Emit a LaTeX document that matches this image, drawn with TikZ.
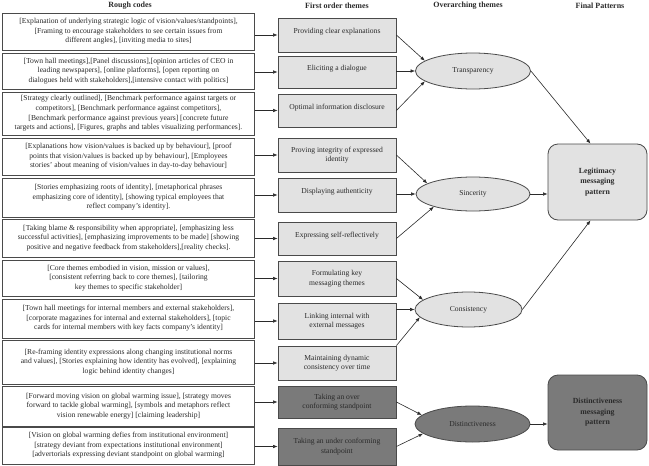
\documentclass[tikz,border=0pt]{standalone}
\usepackage{fontspec}
\setmainfont{Liberation Serif}
\usetikzlibrary{arrows.meta,shapes.geometric}
\definecolor{lightfill}{HTML}{E2E2E2}
\definecolor{darkfill}{HTML}{7A7A7A}
\definecolor{edge}{HTML}{4A4A4A}
\definecolor{ink}{HTML}{2A2A2A}
\tikzset{
  base/.style={font=\fontsize{7.6}{9.6}\selectfont, text=ink, align=center, inner sep=0pt},
  rough/.style={base, draw=edge, line width=1pt, fill=white, minimum width=252pt},
  first/.style={base, draw=edge, line width=0.8pt, fill=lightfill, minimum width=118pt},
  firstdark/.style={first, fill=darkfill},
  oneline/.style={text height=6pt, text depth=9pt},
  over/.style={base, ellipse, draw=edge, line width=0.8pt, fill=lightfill},
  overdark/.style={over, fill=darkfill},
  final/.style={base, font=\fontsize{7.8}{10.5}\selectfont\bfseries, draw=edge, line width=0.8pt, rounded corners=10pt, fill=lightfill, minimum width=99pt},
  finaldark/.style={final, fill=darkfill},
  head/.style={font=\fontsize{8}{10}\selectfont\bfseries, text=ink, inner sep=0pt},
  conn/.style={draw=ink, line width=0.6pt, -{Latex[length=4.5pt,width=3.5pt]}}
}
\begin{document}
\begin{tikzpicture}[x=1pt,y=-1pt]
\useasboundingbox (0,0) rectangle (649,466);

% headers
\node[head] (h1) at (130,6) {Rough codes};
\node[head] (h2) at (337,6) {First order themes};
\node[head] (h3) at (468,6) {Overarching themes};
\node[head] (h4) at (600,6) {Final Patterns};

% rough codes
\node[rough, minimum height=37pt] (r1) at (128.5,31.5) {[Explanation of underlying strategic logic of vision/values/standpoints],\\{}[Framing to encourage stakeholders to see certain issues from\\ different angles], [inviting media to sites]};
\node[rough, minimum height=36pt] (r2) at (128.5,71) {[Town hall meetings],[Panel discussions],[opinion articles of CEO in\\ leading newspapers], [online platforms], [open reporting on\\ dialogues held with stakeholders],[intensive contact with politics]};
\node[rough, minimum height=43pt] (r3) at (128.5,113.5) {[Strategy clearly outlined], [Benchmark performance against targets or\\ competitors], [Benchmark performance against competitors],\\{}[Benchmark performance against previous years] [concrete future\\ targets and actions], [Figures, graphs and tables visualizing performances].};
\node[rough, minimum height=37pt] (r4) at (128.5,156.5) {[Explanations how vision/values is backed up by behaviour], [proof\\ points that vision/values is backed up by behaviour], [Employees\\ stories' about meaning of vision/values in day-to-day behaviour]};
\node[rough, minimum height=39pt] (r5) at (128.5,197.5) {[Stories emphasizing roots of identity], [metaphorical phrases\\ emphasizing core of identity], [showing typical employees that\\ reflect company's identity].};
\node[rough, minimum height=38pt] (r6) at (128.5,238) {[Taking blame \& responsibility when appropriate], [emphasizing less\\ successful activities], [emphasizing improvements to be made] [showing\\ positive and negative feedback from stakeholders],[reality checks].};
\node[rough, minimum height=36pt] (r7) at (128.5,278) {[Core themes embodied in vision, mission or values],\\{}[consistent referring back to core themes], [tailoring\\ key themes to specific stakeholder]};
\node[rough, minimum height=39pt] (r8) at (128.5,318.5) {[Town hall meetings for internal members and external stakeholders],\\{}[corporate magazines for internal and external stakeholders], [topic\\ cards for internal members with key facts company's identity]};
\node[rough, minimum height=44pt] (r9) at (128.5,362) {[Re-framing identity expressions along changing institutional norms\\ and values], [Stories explaining how identity has evolved], [explaining\\ logic behind identity changes]};
\node[rough, minimum height=40pt] (r10) at (128.5,406) {[Forward moving vision on global warming issue], [strategy moves\\ forward to tackle global warming], [symbols and metaphors reflect\\ vision renewable energy] [claiming leadership]};
\node[rough, minimum height=37pt] (r11) at (128.5,445.5) {[Vision on global warming defies from institutional environment]\\{}[strategy deviant from expectations institutional environment]\\{}[advertorials expressing deviant standpoint on global warming]};

% first order themes
\node[first, oneline, minimum height=34pt] (f1) at (337,35) {Providing clear explanations};
\node[first, oneline, minimum height=32pt] (f2) at (337,72) {Eliciting a dialogue};
\node[first, oneline, minimum height=33pt] (f3) at (337,110.5) {Optimal information disclosure};
\node[first, minimum height=34pt] (f4) at (337,155) {Proving integrity of expressed\\ identity};
\node[first, oneline, minimum height=34pt] (f5) at (337,195) {Displaying authenticity};
\node[first, oneline, minimum height=33pt] (f6) at (337,238.5) {Expressing self-reflectively};
\node[first, minimum height=35pt] (f7) at (337,278.5) {Formulating key\\ messaging themes};
\node[first, minimum height=36pt] (f8) at (337,321) {Linking internal with\\ external messages};
\node[first, minimum height=34pt] (f9) at (337,363) {Maintaining dynamic\\ consistency over time};
\node[firstdark, minimum height=32pt] (f10) at (337,402) {Taking an over\\ conforming standpoint};
\node[firstdark, minimum height=37pt] (f11) at (337,446.5) {Taking an under conforming\\ standpoint};

% overarching themes
\node[over, minimum width=115pt, minimum height=36pt] (trans) at (473,71) {Transparency};
\node[over, minimum width=114pt, minimum height=34pt] (sinc) at (473,194) {Sincerity};
\node[over, minimum width=107pt, minimum height=35pt] (cons) at (468.5,309.5) {Consistency};
\node[overdark, minimum width=115pt, minimum height=36pt] (dist) at (472.5,424) {Distinctiveness};

% final patterns
\node[final, minimum height=76pt] (legit) at (597.5,182) {Legitimacy\\ messaging\\ pattern};
\node[finaldark, minimum height=75pt] (distb) at (597.5,412.5) {Distinctiveness\\ messaging\\ pattern};

% rough -> first
\foreach \i in {1,...,11} {
  \draw[conn] (r\i.east |- f\i.west) -- (f\i.west);
}

% first -> overarching
\draw[conn] (f1.east) -- (trans.168);
\draw[conn] (f2.east |- trans.west) -- (trans.west);
\draw[conn] (f3.east) -- (trans.192);
\draw[conn] (f4.east) -- (sinc.167);
\draw[conn] (f5.east |- sinc.west) -- (sinc.west);
\draw[conn] (f6.east) -- (sinc.198);
\draw[conn] (f7.east) -- (cons.168);
\draw[conn] (f8.east |- cons.west) -- (cons.west);
\draw[conn] (f9.north east) -- (cons.189);
\draw[conn] (f10.east) -- (dist.170);
\draw[conn] (f11.east) -- (dist.191);

% overarching -> final
\draw[conn] (trans.east) -- ([xshift=-7pt]legit.north);
\draw[conn] (sinc.east) -- (sinc.east -| legit.west);
\draw[conn] (cons.east) -- ([xshift=-7pt]legit.south);
\draw[conn] (dist.east) -- (dist.east -| distb.west);
\end{tikzpicture}
\end{document}
